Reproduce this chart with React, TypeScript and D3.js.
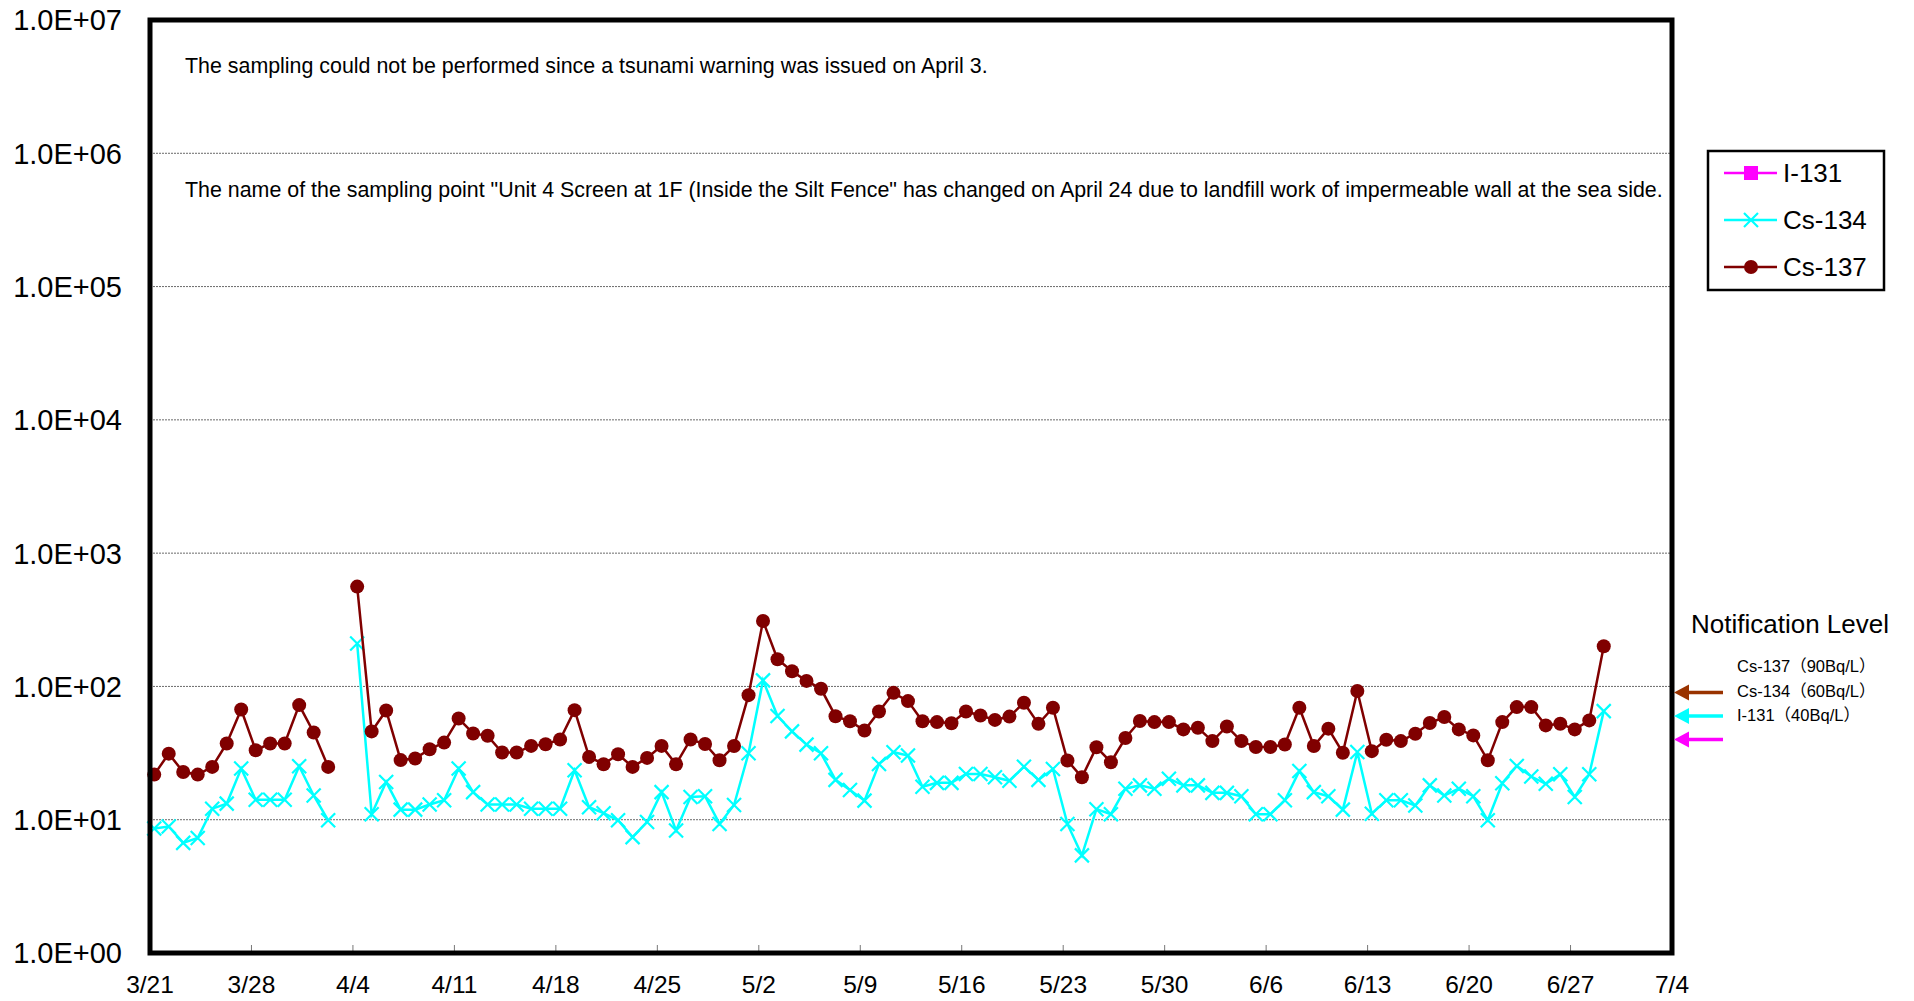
import React from 'react';
import * as d3 from 'd3';

// daily sampling results (Bq/L), 3/21 .. 6/29, null = not sampled (4/3)
const startDate = new Date(Date.UTC(2011, 2, 21));
const endDate = new Date(Date.UTC(2011, 6, 4));
// samples were taken in the morning, so points sit a bit right of the day tick
const sampleDates = d3.utcDay.range(startDate, new Date(Date.UTC(2011, 5, 30)))
  .map(d => d3.utcHour.offset(d, 7));

const cs137 = [
  21.8, 31.3, 22.8, 21.8, 24.9, 37.3, 67.1, 33.2, 37.3, 37.3, 72.4, 45.1, 24.9, null,
  561, 46, 66, 28, 28.8, 33.8, 37.9, 57.4, 44.4, 42.6, 31.9, 31.9, 35.8, 36.8, 40.0,
  66.4, 29.6, 26.1, 31.0, 24.9, 29.1, 35.8, 26.1, 40.0, 37, 27.9, 35.7,
  86, 310, 160, 130, 110, 96, 59.8, 54.8, 46.7, 64.9, 89.5, 77.6, 54.8, 54, 53,
  64.9, 60.5, 56.1, 59.4, 75.4, 52.4, 69.2, 27.8, 20.8, 35, 27, 41, 55, 54, 54,
  47.6, 49, 38.9, 50.1, 38.9, 35.1, 35.1, 36.7, 69.2, 35.7, 48.2, 31.8, 92.3, 32.7,
  39.8, 38.9, 44.2, 53.1, 58.9, 47.6, 42.9, 27.9, 54, 70, 70, 51, 52.5, 47.6, 55.6, 200,
];

const cs134 = [
  8.6, 8.9, 6.7, 7.3, 12.1, 13.2, 24.2, 14.1, 14.1, 14.1, 25.2, 15.2, 9.9, null,
  210, 11.0, 19.2, 11.9, 11.9, 13.0, 14.0, 24.2, 16.1, 13.0, 13.0, 13.0, 12.1, 12.1, 12.1,
  23.5, 12.4, 11.2, 9.9, 7.4, 9.6, 16.1, 8.3, 14.8, 15.0, 9.3, 12.9,
  31.5, 111, 60, 46, 36.6, 31.5, 19.9, 16.7, 13.9, 26.2, 32.1, 30.3, 17.7, 18.9, 18.9,
  22.0, 22.0, 20.8, 19.6, 25.0, 19.9, 24.0, 9.3, 5.4, 12, 11, 17.1, 18.1, 17.1, 20.3,
  18.1, 18.1, 15.9, 15.9, 15.0, 11.0, 11.0, 14.0, 23.2, 16.1, 15.0, 11.9, 32.2, 11.1,
  14.0, 14.0, 12.8, 18.1, 15.2, 17.1, 15.0, 9.9, 18.8, 25.3, 21.1, 18.6, 21.9, 14.8, 21.9, 65.3,
];

// I-131 was below detection limit over the whole period
const i131: (number | null)[] = [];

const yTicks = [1, 10, 100, 1e3, 1e4, 1e5, 1e6, 1e7];
const notifyLevels = [
  { name: 'Cs-137（90Bq/L）', value: 90, color: '#993300' },
  { name: 'Cs-134（60Bq/L）', value: 60, color: '#00FFFF' },
  { name: 'I-131（40Bq/L）', value: 40, color: '#FF00FF' },
];
const notes = [
  'The sampling could not be performed since a tsunami warning was issued on April 3.',
  'The name of the sampling point "Unit 4 Screen at 1F (Inside the Silt Fence" has changed on April 24 due to landfill work of impermeable wall at the sea side.',
];

const W = 1914, H = 1001;
const left = 150, right = 1672, top = 20, bottom = 953;
const font = '"Liberation Sans", Arial, "Noto Sans CJK JP", sans-serif';

const x = d3.scaleUtc().domain([startDate, endDate]).range([left, right]);
const y = d3.scaleLog().domain([1, 1e7]).range([bottom, top]);
const xTicks = d3.utcDay.range(startDate, new Date(Date.UTC(2011, 6, 5)), 7);
const fmt = d3.utcFormat('%-m/%-d');

const line = d3.line<number | null>()
  .defined(d => d != null)
  .x((d, i) => x(sampleDates[i]))
  .y(d => y(d as number));

const Cross = ({ cx, cy, s = 7 }: { cx: number; cy: number; s?: number }) => (
  <path d={`M${cx - s},${cy - s}L${cx + s},${cy + s}M${cx - s},${cy + s}L${cx + s},${cy - s}`}
    stroke="#00FFFF" strokeWidth={2.2} fill="none" />
);

const App = () => {
  const legend = [
    { name: 'I-131', color: '#FF00FF', mark: 'square' },
    { name: 'Cs-134', color: '#00FFFF', mark: 'cross' },
    { name: 'Cs-137', color: '#800000', mark: 'circle' },
  ];
  return (
    <svg width={W} height={H} style={{ position: 'absolute', left: 0, top: 0, background: '#fff' }}
      fontFamily={font}>
      <rect x={0} y={0} width={W} height={H} fill="#fff" />

      {/* grid */}
      {yTicks.slice(1, -1).map(t => (
        <line key={t} x1={left} x2={right} y1={y(t)} y2={y(t)} stroke="#444" strokeWidth={0.8} strokeDasharray="2,1" />
      ))}

      {/* y labels */}
      {yTicks.map((t, i) => (
        <text key={t} x={122} y={y(t)} dy="0.36em" textAnchor="end" fontSize={29}>{`1.0E+0${i}`}</text>
      ))}

      {/* x ticks and labels */}
      {xTicks.map(t => (
        <g key={+t}>
          <line x1={x(t)} x2={x(t)} y1={bottom} y2={bottom - 8} stroke="#777" strokeWidth={1} />
          <text x={x(t)} y={993} textAnchor="middle" fontSize={24.5}>{fmt(t)}</text>
        </g>
      ))}

      {/* notes */}
      <text x={185} y={73} fontSize={21.4}>{notes[0]}</text>
      <text x={185} y={197} fontSize={21.4}>{notes[1]}</text>

      {/* series */}
      <path d={line(i131) || ''} stroke="#FF00FF" strokeWidth={2.5} fill="none" />
      <path d={line(cs134) || ''} stroke="#00FFFF" strokeWidth={2.5} fill="none" />
      {cs134.map((v, i) => v == null ? null : <Cross key={i} cx={x(sampleDates[i])} cy={y(v)} />)}
      <path d={line(cs137) || ''} stroke="#800000" strokeWidth={2.5} fill="none" />
      {cs137.map((v, i) => v == null ? null : (
        <circle key={i} cx={x(sampleDates[i])} cy={y(v)} r={7} fill="#800000" />
      ))}

      {/* frame */}
      <rect x={left} y={top} width={right - left} height={bottom - top} fill="none" stroke="#000" strokeWidth={5} />

      {/* legend */}
      <rect x={1708} y={151} width={176} height={139} fill="#fff" stroke="#000" strokeWidth={2.5} />
      {legend.map((l, i) => {
        const ly = 173 + i * 47;
        return (
          <g key={l.name}>
            <line x1={1724} x2={1777} y1={ly} y2={ly} stroke={l.color} strokeWidth={2.5} />
            {l.mark === 'square' && <rect x={1744} y={ly - 7} width={14} height={14} fill={l.color} />}
            {l.mark === 'cross' && <Cross cx={1751} cy={ly} />}
            {l.mark === 'circle' && <circle cx={1751} cy={ly} r={7} fill={l.color} />}
            <text x={1783} y={ly} dy="0.36em" fontSize={26}>{l.name}</text>
          </g>
        );
      })}

      {/* notification levels */}
      <text x={1691} y={633} fontSize={26}>Notification Level</text>
      {notifyLevels.map((n, i) => (
        <text key={n.name} x={1737} y={672 + i * 24.5} fontSize={16.5}>{n.name}</text>
      ))}
      {notifyLevels.map(n => {
        const ay = y(n.value);
        return (
          <g key={n.value}>
            <line x1={1686} x2={1723} y1={ay} y2={ay} stroke={n.color} strokeWidth={3.5} />
            <path d={`M1674,${ay}L1689,${ay - 8}L1689,${ay + 8}Z`} fill={n.color} />
          </g>
        );
      })}
    </svg>
  );
};

export default App;
